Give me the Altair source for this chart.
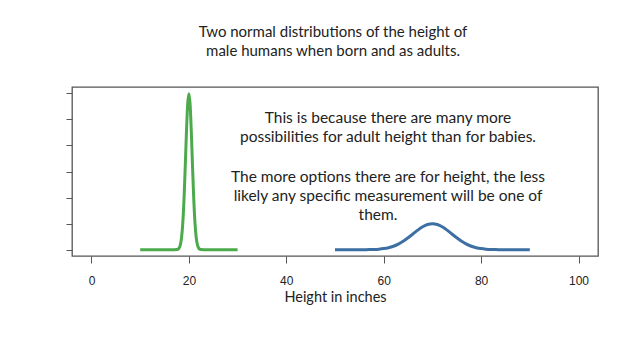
import altair as alt
import pandas as pd

# Newborn height density (green)
born_x = [10, 12, 14, 16, 17, 17.5, 17.75, 18, 18.25, 18.5, 18.75, 19, 19.25, 19.5, 19.75,
          20, 20.25, 20.5, 20.75, 21, 21.25, 21.5, 21.75, 22, 22.25, 22.5, 23, 24, 26, 28, 30]
born_y = [0, 0, 0, 0, 0.0000, 0.0005, 0.0020, 0.0066, 0.0191, 0.0476, 0.1032, 0.1943, 0.3178, 0.4517, 0.5578,
          0.5984, 0.5578, 0.4517, 0.3178, 0.1943, 0.1032, 0.0476, 0.0191, 0.0066, 0.0020, 0.0005, 0.0000, 0, 0, 0, 0]

# Adult height density (blue)
adult_x = [50, 52, 54, 55, 56, 57, 58, 59, 60, 61, 62, 63, 64, 65, 66, 67, 68, 69, 70,
           71, 72, 73, 74, 75, 76, 77, 78, 79, 80, 81, 82, 83, 84, 85, 86, 88, 90]
adult_y = [0, 0, 0, 0.0001, 0.0002, 0.0005, 0.0011, 0.0023, 0.0044, 0.0079, 0.0135, 0.0216, 0.0324,
           0.0457, 0.0605, 0.0753, 0.0880, 0.0967, 0.0997,
           0.0967, 0.0880, 0.0753, 0.0605, 0.0457, 0.0324, 0.0216, 0.0135, 0.0079, 0.0044, 0.0023,
           0.0011, 0.0005, 0.0002, 0.0001, 0, 0, 0]

x_ticks = [0, 20, 40, 60, 80, 100]
y_ticks = [0, 0.1, 0.2, 0.3, 0.4, 0.5, 0.6]

title_lines = ["Two normal distributions of the height of",
               "male humans when born and as adults."]
note_lines = ["This is because there are many more",
              "possibilities for adult height than for babies.",
              "The more options there are for height, the less",
              "likely any specific measurement will be one of",
              "them."]

df = pd.concat([
    pd.DataFrame({"x": born_x, "y": born_y, "group": "born"}),
    pd.DataFrame({"x": adult_x, "y": adult_y, "group": "adult"}),
])

W, H = 526, 169

xscale = alt.Scale(domain=[-4, 104], nice=False, zero=False)
yscale = alt.Scale(domain=[-0.024, 0.624], nice=False, zero=False)

lines = alt.Chart(df).mark_line(strokeWidth=3, interpolate="monotone").encode(
    x=alt.X("x:Q", scale=xscale,
            axis=alt.Axis(values=x_ticks, title="Height in inches", grid=False, domain=False,
                          tickSize=7, tickColor="#555", labelFont="Liberation Sans",
                          labelFontSize=12, labelColor="#222", labelPadding=12,
                          titleFont="Lato", titleFontSize=14.5, titleFontWeight="normal",
                          titleColor="#222", titlePadding=4)),
    y=alt.Y("y:Q", scale=yscale,
            axis=alt.Axis(values=y_ticks, labels=False, title=None, grid=False, domain=False,
                          tickSize=6, tickColor="#555")),
    color=alt.Color("group:N", scale=alt.Scale(domain=["born", "adult"],
                                               range=["#4caa4c", "#3d6fa3"]), legend=None),
    detail="group:N",
)

title_df = pd.DataFrame({"t": title_lines, "yy": [-55, -36], "xx": [261, 261]})
title = alt.Chart(title_df).mark_text(font="Lato", fontSize=15, color="#222", align="center",
                                      baseline="middle").encode(
    text="t:N",
    x=alt.X("xx:Q", scale=None),
    y=alt.Y("yy:Q", scale=None),
)

note_df = pd.DataFrame({"t": note_lines, "yy": [31, 50, 90, 109, 128], "xx": [316, 316, 316, 316, 306]})
note = alt.Chart(note_df).mark_text(font="Lato", fontSize=15.5, color="#222", align="center",
                                    baseline="middle").encode(
    text="t:N",
    x=alt.X("xx:Q", scale=None),
    y=alt.Y("yy:Q", scale=None),
)

chart = alt.layer(lines, title, note).properties(
    width=W, height=H,
    autosize=alt.AutoSizeParams(type="none"),
    padding={"left": 64, "top": 79, "right": 34, "bottom": 88},
    background="white",
).configure_view(stroke="#555", strokeWidth=1.3)

chart.save("out.html", embed_options={"renderer": "svg", "actions": False})
